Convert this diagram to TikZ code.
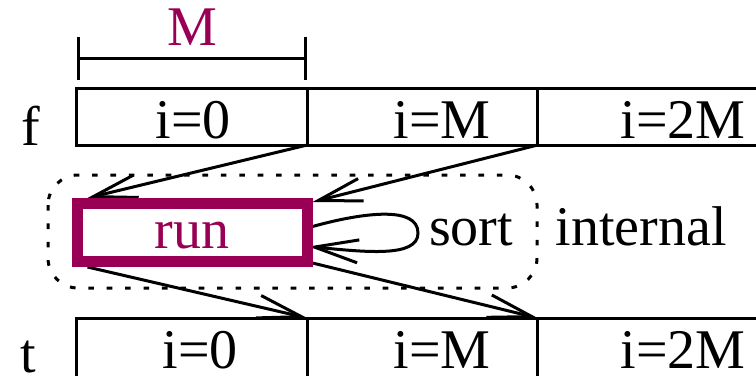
\documentclass[tikz,border=0pt]{standalone}
\usepackage{fontspec}
\setmainfont{Liberation Serif}
\usetikzlibrary{arrows.meta,positioning,backgrounds}
\definecolor{runred}{RGB}{153,0,85}
\tikzset{
  cell/.style={draw, line width=0.75pt, minimum width=57.6pt, minimum height=14.25pt, inner sep=0pt, outer sep=0pt},
  runbox/.style={draw=runred, line width=2.75pt, minimum width=57.5pt, minimum height=14.5pt, inner sep=0pt, outer sep=1.375pt, text=runred, text height=7.9pt, text depth=0pt},
  flow/.style={line width=0.75pt, -{Straight Barb[length=11pt,width=5.75pt]}},
  zone/.style={line width=0.75pt, dash pattern=on 1.4pt off 3.2pt, rounded corners=7.5pt},
  dimline/.style={line width=0.75pt, {Bar[width=10.75pt]}-{Bar[width=10.75pt]}},
}

\begin{document}
\begin{tikzpicture}[x=0.25pt, y=-0.25pt, font=\fontsize{14}{17}\selectfont]
  \clip (0,0) rectangle (756,375);

  % input file f
  \node[cell] (f0) at (192,116.5) {};
  \node[cell, right=0pt of f0] (f1) {};
  \node[cell, right=0pt of f1] (f2) {};
  \node[anchor=base] (fname) at (31,145) {f};
  \node[anchor=base] (f0text) at (193,138) {i=0};
  \node[anchor=base] (f1text) at (442,138) {i=M};
  \node[anchor=base] (f2text) at (683,138) {i=2M};

  % block size
  \draw[dimline] ([yshift=7.5pt]f0.north west) -- node[above=2.75pt, inner sep=0pt, text=runred] (msize) {M} ([yshift=7.5pt]f0.north east);

  % output file t
  \node[cell, minimum height=15pt] (t0) at (192,348) {};
  \node[cell, minimum height=15pt, right=0pt of t0] (t1) {};
  \node[cell, minimum height=15pt, right=0pt of t1] (t2) {};
  \node[anchor=base] (tname) at (28,372) {t};
  \node[anchor=base] (t0text) at (200,368) {i=0};
  \node[anchor=base] (t1text) at (442,368) {i=M};
  \node[anchor=base] (t2text) at (683,368) {i=2M};

  % internal memory
  \draw[zone] (48,175) rectangle (537,288);
  \node[runbox] (run) at (192,232.5) {run};
  \node[anchor=base] (sorttext) at (471,245) {sort};
  \node[anchor=base] (memtext) at (641,245) {internal};

  % transfers
  \begin{scope}[on background layer]
    \draw[flow] (f0.south east) -- ([xshift=4pt]run.north west);
    \draw[flow] (f1.south east) -- ([yshift=-1pt]run.north east);
    \draw[flow] ([xshift=4pt]run.south west) -- (t0.north east);
    \draw[flow] ([yshift=1pt]run.south east) -- (t1.north east);
    \coordinate (sortturn) at (418,233);
    \draw[flow] ([yshift=1.5pt]run.east) .. controls (365,212) and (418,206) .. (sortturn)
      .. controls (418,258) and (365,252) .. ([xshift=-1pt,yshift=-3.5pt]run.east);
  \end{scope}
\end{tikzpicture}
\end{document}
